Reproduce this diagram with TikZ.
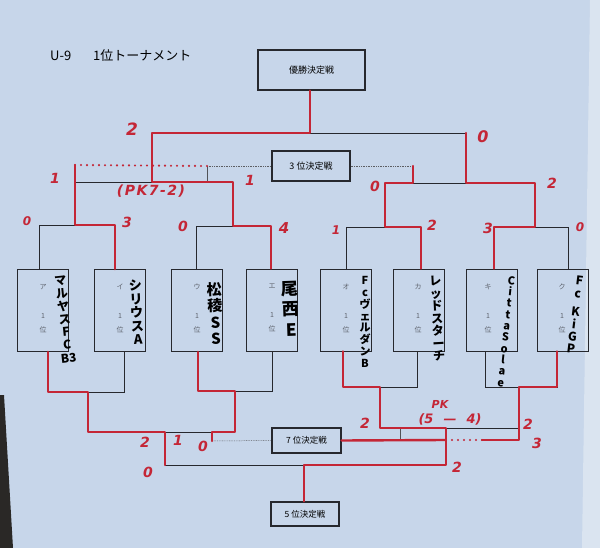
\documentclass[tikz,border=0pt]{standalone}
\usepackage{fontspec}
\newfontfamily\jp{Noto Sans CJK JP}
\newfontfamily\hand{DejaVu Sans}
\definecolor{paper}{RGB}{199,214,234}
\definecolor{mk}{RGB}{196,38,54}
\definecolor{ink}{RGB}{38,40,46}
\definecolor{lbl}{RGB}{95,100,110}
\definecolor{edge}{RGB}{42,40,38}
\definecolor{light}{RGB}{218,228,240}
\tikzset{
  pline/.style={draw=ink, line width=0.7pt},
  pthin/.style={draw=ink!80, line width=0.45pt},
  pdot/.style={draw=ink!75, line width=0.5pt, dash pattern=on 0.8pt off 0.9pt},
  rline/.style={draw=mk, line width=2.4pt, line join=round, line cap=round},
  rdot/.style={draw=mk, line width=2.4pt, line cap=round, dash pattern=on 0pt off 6pt},
  tbox/.style={draw=ink, line width=0.8pt, minimum width=51pt, minimum height=82pt, inner sep=0pt},
  mbox/.style={draw=ink, line width=1.3pt, inner sep=0pt, font=\jp\fontsize{9}{9}\selectfont},
  inlbl/.style={font=\jp\fontsize{7}{14}\selectfont, text=lbl, align=center, inner sep=0pt, anchor=north},
  nm/.style={font=\jp\bfseries, align=center, inner sep=0pt, anchor=north, text=black},
  sc/.style={font=\hand\bfseries\itshape\fontsize{14}{14}\selectfont, text=mk, inner sep=0pt},
}
\begin{document}
\begin{tikzpicture}[x=1pt,y=-1pt]
\fill[paper] (0,0) rectangle (600,548);
\path[use as bounding box] (0,0) rectangle (600,548);
\fill[light] (590,0) -- (600,0) -- (600,548) -- (582,548) -- cycle;
\fill[edge] (0,395) -- (4,395) -- (13,548) -- (0,548) -- cycle;

% title
\node[font=\jp\fontsize{13}{13}\selectfont, anchor=west, inner sep=0pt] (t1) at (50,56) {U-9};
\node[font=\jp\fontsize{13}{13}\selectfont, anchor=west, inner sep=0pt] (t2) at (93,56) {1位トーナメント};

% match boxes
\node[mbox, minimum width=107pt, minimum height=40pt] (win) at (311.5,70) {優勝決定戦};
\node[mbox, minimum width=78pt, minimum height=30pt] (third) at (311,166) {3 位決定戦};
\node[mbox, minimum width=69pt, minimum height=25pt, font=\jp\fontsize{8.5}{8.5}\selectfont] (seventh) at (306.5,440.5) {7 位決定戦};
\node[mbox, minimum width=68pt, minimum height=24pt, font=\jp\fontsize{8.5}{8.5}\selectfont] (fifth) at (305,514) {5 位決定戦};

% team boxes
\node[tbox] (A) at (43,310.5) {};
\node[tbox] (B) at (120,310.5) {};
\node[tbox] (C) at (197,310.5) {};
\node[tbox] (D) at (272,310) {};
\node[tbox] (E) at (346,310) {};
\node[tbox] (F) at (419,310) {};
\node[tbox] (G) at (492,310) {};
\node[tbox] (H) at (563,310) {};

\node[inlbl] (la) at (43,284) {ア\\[15pt]1\\位};
\node[inlbl] (lb) at (120,284) {イ\\[15pt]1\\位};
\node[inlbl] (lc) at (197,284) {ウ\\[15pt]1\\位};
\node[inlbl] (ld) at (272,284) {エ\\[15pt]1\\位};
\node[inlbl] (le) at (346,284) {オ\\[15pt]1\\位};
\node[inlbl] (lf) at (418,284) {カ\\[15pt]1\\位};
\node[inlbl] (lg) at (488,284) {キ\\[15pt]1\\位};
\node[inlbl] (lh) at (562,284) {ク\\[15pt]1\\位};

% connector points on boxes
\coordinate (At) at ([xshift=-4pt]A.north); \coordinate (Ab) at ([xshift=5pt]A.south);
\coordinate (Bt) at ([xshift=-5pt]B.north); \coordinate (Bb) at ([xshift=4pt]B.south);
\coordinate (Ct) at ([xshift=-1pt]C.north); \coordinate (Cb) at ([xshift=1pt]C.south);
\coordinate (Dt) at ([xshift=-1pt]D.north); \coordinate (Db) at (D.south);
\coordinate (Et) at (E.north);              \coordinate (Eb) at ([xshift=-3pt]E.south);
\coordinate (Ft) at ([xshift=2pt]F.north);  \coordinate (Fb) at ([xshift=-2pt]F.south);
\coordinate (Gt) at ([xshift=2pt]G.north);  \coordinate (Gb) at ([xshift=-7pt]G.south);
\coordinate (Ht) at ([xshift=5pt]H.north);  \coordinate (Hb) at ([xshift=-6pt]H.south);

% junctions
\coordinate (Q1c) at (75,225); \coordinate (Q2c) at (233,226);
\coordinate (Q3c) at (385,227); \coordinate (Q4c) at (535,227);
\coordinate (S1a) at (75,182); \coordinate (S1b) at (233,182);
\coordinate (S1c) at (152,182); \coordinate (S1t) at (207,182);
\coordinate (S2a) at (385,183); \coordinate (S2b) at (535,183);
\coordinate (S2c) at (466,183); \coordinate (S2t) at (413,183);
\coordinate (F1) at (152,133); \coordinate (F2) at (466,133); \coordinate (Fw) at (310,133);
\coordinate (T1) at (207,166); \coordinate (T2) at (413,166); \coordinate (Rup) at (75,165);
\coordinate (L1c) at (88,392); \coordinate (L2c) at (235,391);
\coordinate (L3c) at (380,387); \coordinate (L4c) at (519,387);
\coordinate (M1a) at (88,432); \coordinate (M1b) at (235,432);
\coordinate (M1c) at (165,432); \coordinate (M1t) at (212,432);
\coordinate (M2a) at (380,428); \coordinate (M2b) at (519,428);
\coordinate (M2c) at (446,428); \coordinate (M2t) at (400,428);
\coordinate (P1) at (165,465); \coordinate (P2) at (446,465); \coordinate (P5) at (304,465);
\coordinate (U1) at (212,441); \coordinate (U2) at (400,440); \coordinate (R8c) at (519,440);
\coordinate (R8d) at (482,440); \coordinate (R8e) at (450,440); \coordinate (R8f) at (446,440);

% printed bracket (upper)
\draw[pline] (F1) -- (F2);
\draw[pline] (Fw) -- (Fw |- win.south);
\draw[pline] (S1a) -- (S1b);  \draw[pline] (S1c) -- (F1);
\draw[pline] (S2a) -- (S2b);  \draw[pline] (S2c) -- (F2);
\draw[pline] (At) -- (At |- Q1c) -- (Bt |- Q1c) -- (Bt);  \draw[pline] (Q1c) -- (S1a);
\draw[pline] (Ct) -- (Ct |- Q2c) -- (Dt |- Q2c) -- (Dt);  \draw[pline] (Q2c) -- (S1b);
\draw[pline] (Et) -- (Et |- Q3c) -- (Ft |- Q3c) -- (Ft);  \draw[pline] (Q3c) -- (S2a);
\draw[pline] (Gt) -- (Gt |- Q4c) -- (Ht |- Q4c) -- (Ht);  \draw[pline] (Q4c) -- (S2b);
\draw[pdot] (T1) -- (third.west);  \draw[pthin] (T1) -- (S1t);
\draw[pdot] (third.east) -- (T2);  \draw[pthin] (T2) -- (S2t);

% printed bracket (lower)
\draw[pline] (Ab) -- (Ab |- L1c) -- (Bb |- L1c) -- (Bb);  \draw[pline] (L1c) -- (M1a);
\draw[pline] (Cb) -- (Cb |- L2c) -- (Db |- L2c) -- (Db);  \draw[pline] (L2c) -- (M1b);
\draw[pline] (Eb) -- (Eb |- L3c) -- (Fb |- L3c) -- (Fb);  \draw[pline] (L3c) -- (M2a);
\draw[pline] (Gb) -- (Gb |- L4c) -- (Hb |- L4c) -- (Hb);  \draw[pline] (L4c) -- (M2b);
\draw[pline] (M1a) -- (M1b);  \draw[pline] (M1c) -- (P1);
\draw[pline] (M2a) -- (M2b);  \draw[pline] (M2c) -- (P2);
\draw[pline] (P1) -- (P2);    \draw[pline] (P5) -- (P5 |- fifth.north);
\draw[pdot] (U1) -- (seventh.west);  \draw[pthin] (U1) -- (M1t);
\draw[pdot] (seventh.east) -- (U2);  \draw[pthin] (U2) -- (M2t);

% red marker results
\draw[rline] (Bt) -- (Bt |- Q1c) -- (Q1c) -- (Rup);
\draw[rdot] (Rup) -- (T1);
\draw[rline] (Dt) -- (Dt |- Q2c) -- (Q2c) -- (S1b) -- (S1c) -- (F1) -- (Fw) -- (Fw |- win.south);
\draw[rline] (Ft) -- (Ft |- Q3c) -- (Q3c) -- (S2a) -- (S2t) -- (T2);
\draw[rline] (Gt) -- (Gt |- Q4c) -- (Q4c) -- (S2b) -- (S2c) -- (F2);
\draw[rline] (Ab) -- (Ab |- L1c) -- (L1c) -- (M1a) -- (M1c) -- (P1);
\draw[rline] (Cb) -- (Cb |- L2c) -- (L2c) -- (M1b) -- (M1t) -- (U1);
\draw[rline] (Eb) -- (Eb |- L3c) -- (L3c) -- (M2a) -- (M2c) -- (P2) -- (P5) -- (P5 |- fifth.north);
\draw[rline] (Hb) -- (Hb |- L4c) -- (L4c) -- (R8c) -- (R8d);
\draw[rdot] (R8d) -- (R8e);
\draw[rline] (R8f) -- (seventh.east);

% handwritten team names
\node[nm, font=\jp\bfseries\fontsize{12}{13}\selectfont, rotate=6] (nA) at (60,276) {マ\\ル\\ヤ\\ス\\F\\C\\B3};
\node[nm, font=\jp\bfseries\fontsize{13}{13.5}\selectfont, rotate=3] (nB) at (135,280) {シ\\リ\\ウ\\ス\\A};
\node[nm, font=\jp\bfseries\fontsize{15}{16.5}\selectfont, rotate=2] (nC) at (214,282) {松\\稜\\S\\S};
\node[nm, font=\jp\bfseries\fontsize{17}{20.5}\selectfont, rotate=2] (nD) at (290,281) {尾\\西\\E};
\node[nm, font=\jp\bfseries\fontsize{11}{11.9}\selectfont] (nE) at (365,276) {F\\c\\ヴ\\ェ\\ル\\ダ\\ン\\B};
\node[nm, font=\jp\bfseries\fontsize{12}{12.5}\selectfont, rotate=3] (nF) at (435,276) {レ\\ッ\\ド\\ス\\タ\\ー\\チ};
\node[nm, font=\jp\bfseries\fontsize{11}{11.4}\selectfont, rotate=-6] (nG) at (512,276) {C\\i\\t\\t\\a\\S\\o\\l\\a\\e};
\node[nm, font=\jp\bfseries\fontsize{12}{12.5}\selectfont, rotate=-7] (nH) at (580,276) {F\\c\\[6pt]K\\i\\G\\P};

% scores
\node[sc, font=\hand\bfseries\itshape\fontsize{17}{17}\selectfont] (s1) at (132,129) {2};
\node[sc] (s2) at (55,178) {1};
\node[sc, font=\hand\bfseries\itshape\fontsize{14}{14}\selectfont] (s3) at (151,191) {(\hspace{1.5pt}P\hspace{1.5pt}K\hspace{1.5pt}7\hspace{1.5pt}-\hspace{1.5pt}2\hspace{1.5pt})};
\node[sc] (s4) at (250,180) {1};
\node[sc, font=\hand\bfseries\itshape\fontsize{12}{12}\selectfont] (s5) at (27,221) {0};
\node[sc] (s6) at (127,222) {3};
\node[sc] (s7) at (183,226) {0};
\node[sc, font=\hand\bfseries\itshape\fontsize{15}{15}\selectfont] (s8) at (284,228) {4};
\node[sc, font=\hand\bfseries\itshape\fontsize{16}{16}\selectfont] (s9) at (483,137) {0};
\node[sc] (s10) at (375,186) {0};
\node[sc] (s11) at (552,183) {2};
\node[sc, font=\hand\bfseries\itshape\fontsize{12}{12}\selectfont] (s12) at (336,230) {1};
\node[sc] (s13) at (432,225) {2};
\node[sc] (s14) at (488,228) {3};
\node[sc, font=\hand\bfseries\itshape\fontsize{12}{12}\selectfont] (s15) at (580,227) {0};
\node[sc] (s16) at (145,442) {2};
\node[sc] (s17) at (178,440) {1};
\node[sc] (s18) at (203,446) {0};
\node[sc] (s19) at (148,472) {0};
\node[sc] (s20) at (365,423) {2};
\node[sc, font=\hand\bfseries\itshape\fontsize{11}{11}\selectfont] (s21) at (440,404) {PK};
\node[sc, font=\hand\bfseries\itshape\fontsize{13}{13}\selectfont] (s22) at (450,419) {(5\hspace{10pt}—\hspace{10pt}4)};
\node[sc] (s23) at (528,424) {2};
\node[sc] (s24) at (537,443) {3};
\node[sc] (s25) at (457,467) {2};
\end{tikzpicture}
\end{document}
